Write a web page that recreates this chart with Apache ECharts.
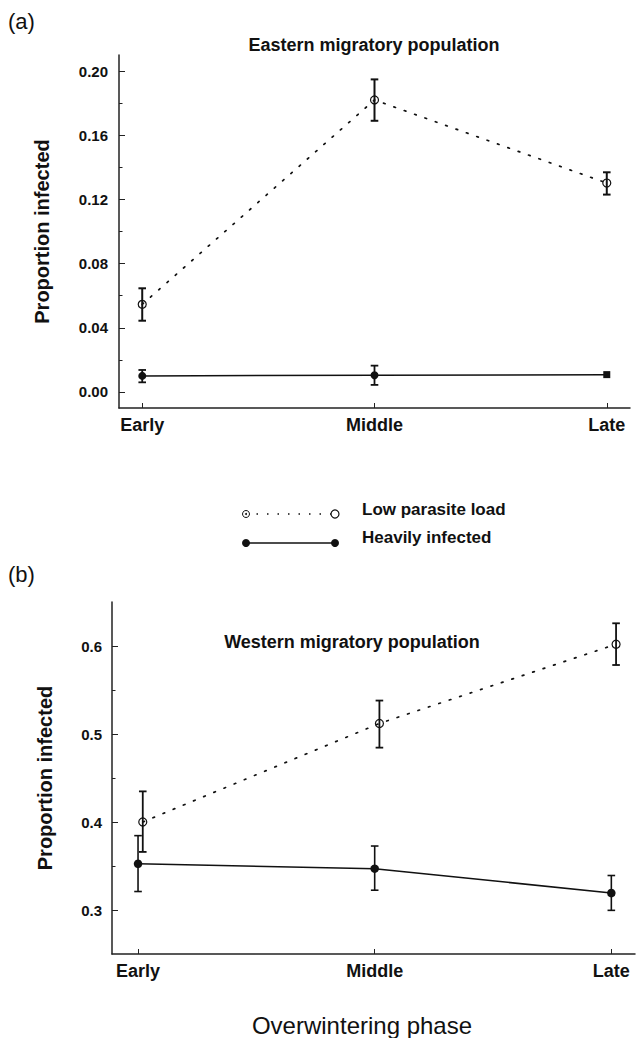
<!DOCTYPE html>
<html>
<head>
<meta charset="utf-8">
<script src="https://cdn.jsdelivr.net/npm/echarts@6/dist/echarts.min.js"></script>
<style>
  html, body { margin: 0; padding: 0; background: #fff; }
  #chart { width: 639px; height: 1038px; }
</style>
</head>
<body>
<div id="chart"></div>
<script>
// ---- data ----
const categories = ['Early', 'Middle', 'Late'];

// (a) Eastern migratory population
const eastLowMean   = [0.0546, 0.1820, 0.1302];
const eastLowLo     = [0.0444, 0.1690, 0.1230];
const eastLowHi     = [0.0646, 0.1948, 0.1369];
const eastHeavyMean = [0.0100, 0.0104, 0.0108];
const eastHeavyLo   = [0.0060, 0.0044, null];
const eastHeavyHi   = [0.0137, 0.0164, null];
const eastTicks      = [0.00, 0.04, 0.08, 0.12, 0.16, 0.20];
const eastMinorTicks = [0.02, 0.06, 0.10, 0.14, 0.18];

// (b) Western migratory population
const westLowMean   = [0.400, 0.512, 0.602];
const westLowLo     = [0.366, 0.4845, 0.5784];
const westLowHi     = [0.4348, 0.538, 0.6258];
const westHeavyMean = [0.3525, 0.3470, 0.3193];
const westHeavyLo   = [0.3210, 0.3225, 0.2996];
const westHeavyHi   = [0.3845, 0.3727, 0.3392];
const westTicks      = [0.3, 0.4, 0.5, 0.6];
const westMinorTicks = [0.35, 0.45, 0.55];

// ---- styling helpers ----
const INK = '#111';
const FONT = '"Liberation Sans", Arial, Helvetica, sans-serif';
const westLowDodge = 0.02;

function pts(means, dx) { return means.map((v, i) => [i + dx, v]); }
function bars(lo, hi, dx) {
  const out = [];
  lo.forEach((l, i) => { if (l != null && hi[i] != null) out.push([i + dx, l, hi[i]]); });
  return out;
}
function errRender(width) {
  return function (params, api) {
    const x = api.value(0);
    const a = api.coord([x, api.value(1)]);
    const b = api.coord([x, api.value(2)]);
    const cw = 3.8;
    const st = { stroke: INK, lineWidth: width };
    return {
      type: 'group',
      children: [
        { type: 'line', shape: { x1: a[0], y1: a[1], x2: b[0], y2: b[1] }, style: st },
        { type: 'line', shape: { x1: a[0] - cw, y1: a[1], x2: a[0] + cw, y2: a[1] }, style: st },
        { type: 'line', shape: { x1: b[0] - cw, y1: b[1], x2: b[0] + cw, y2: b[1] }, style: st }
      ]
    };
  };
}
function xAxisCfg(gridIndex, min, max) {
  return {
    type: 'value', gridIndex, min, max, position: 'bottom',
    axisLine: { show: true, onZero: false, lineStyle: { color: '#222', width: 1.5 } },
    axisTick: { show: true, inside: true, length: 5, customValues: [0, 1, 2], lineStyle: { color: '#222', width: 1 } },
    axisLabel: {
      show: true, customValues: [0, 1, 2], margin: 8,
      formatter: v => categories[Math.round(v)],
      color: INK, fontSize: 18, fontWeight: 'bold', fontFamily: FONT
    },
    splitLine: { show: false }
  };
}
function yAxisCfg(gridIndex, min, max, ticks, digits, margin, nameGap) {
  return {
    type: 'value', gridIndex, min, max, position: 'left',
    name: 'Proportion infected', nameLocation: 'middle', nameRotate: 90, nameGap,
    nameTextStyle: { color: INK, fontSize: 20, fontWeight: 'bold', fontFamily: FONT },
    axisLine: { show: true, onZero: false, lineStyle: { color: '#222', width: 1.5 } },
    axisTick: { show: true, inside: true, length: 6, customValues: ticks, lineStyle: { color: '#222', width: 1 } },
    axisLabel: {
      show: true, customValues: ticks, margin,
      formatter: v => v.toFixed(digits),
      color: INK, fontSize: 15, fontWeight: 'bold', fontFamily: FONT
    },
    splitLine: { show: false }
  };
}
function yMinorCfg(gridIndex, min, max, ticks) {
  return {
    type: 'value', gridIndex, min, max, position: 'left', offset: 0,
    axisLine: { show: false, onZero: false },
    axisTick: { show: true, inside: true, length: 3.5, customValues: ticks, lineStyle: { color: '#222', width: 1 } },
    axisLabel: { show: false },
    splitLine: { show: false }
  };
}
const openCircle = { color: 'transparent', borderColor: INK, borderWidth: 1.2 };
const dotted = { color: INK, width: 1.7, type: [1.7, 9.3], cap: 'round' };
const solid = { color: INK, width: 1.5 };

const option = {
  animation: false,
  backgroundColor: '#fff',
  grid: [
    { left: 119, top: 55, width: 511, height: 353 },
    { left: 112, top: 602, width: 523, height: 352 }
  ],
  xAxis: [xAxisCfg(0, -0.1, 2.1), xAxisCfg(1, -0.11, 2.1)],
  yAxis: [
    yAxisCfg(0, -0.01, 0.21, eastTicks, 2, 11, 67),
    yMinorCfg(0, -0.01, 0.21, eastMinorTicks),
    yAxisCfg(1, 0.25, 0.65, westTicks, 1, 10, 57),
    yMinorCfg(1, 0.25, 0.65, westMinorTicks)
  ],
  series: [
    { type: 'custom', xAxisIndex: 0, yAxisIndex: 0, renderItem: errRender(2), data: bars(eastLowLo, eastLowHi, 0), encode: { x: 0, y: [1, 2] }, z: 1 },
    { type: 'custom', xAxisIndex: 0, yAxisIndex: 0, renderItem: errRender(1.8), data: bars(eastHeavyLo, eastHeavyHi, 0), encode: { x: 0, y: [1, 2] }, z: 1 },
    { type: 'line', name: 'Low parasite load', xAxisIndex: 0, yAxisIndex: 0, data: pts(eastLowMean, 0),
      symbol: 'circle', symbolSize: 8, itemStyle: openCircle, lineStyle: dotted, z: 3 },
    { type: 'line', name: 'Heavily infected', xAxisIndex: 0, yAxisIndex: 0,
      data: pts(eastHeavyMean, 0).map((p, i) => i === 2 ? { value: p, symbol: 'rect', symbolSize: 7 } : p),
      symbol: 'circle', symbolSize: 8, itemStyle: { color: INK }, lineStyle: solid, z: 3 },

    { type: 'custom', xAxisIndex: 1, yAxisIndex: 2, renderItem: errRender(1.8), data: bars(westLowLo, westLowHi, westLowDodge), encode: { x: 0, y: [1, 2] }, z: 1 },
    { type: 'custom', xAxisIndex: 1, yAxisIndex: 2, renderItem: errRender(1.6), data: bars(westHeavyLo, westHeavyHi, 0), encode: { x: 0, y: [1, 2] }, z: 1 },
    { type: 'line', name: 'Low parasite load', xAxisIndex: 1, yAxisIndex: 2, data: pts(westLowMean, westLowDodge),
      symbol: 'circle', symbolSize: 8, itemStyle: openCircle, lineStyle: dotted, z: 3 },
    { type: 'line', name: 'Heavily infected', xAxisIndex: 1, yAxisIndex: 2, data: pts(westHeavyMean, 0),
      symbol: 'circle', symbolSize: 8.5, itemStyle: { color: INK }, lineStyle: solid, z: 3 }
  ],
  graphic: [
    { type: 'text', x: 8, y: 21, style: { text: '(a)', fill: INK, font: '22px ' + FONT, textVerticalAlign: 'middle', verticalAlign: 'middle' } },
    { type: 'text', x: 8, y: 574, style: { text: '(b)', fill: INK, font: '22px ' + FONT, textVerticalAlign: 'middle', verticalAlign: 'middle' } },
    { type: 'text', x: 374, y: 45, style: { text: 'Eastern migratory population', fill: INK, font: 'bold 18px ' + FONT, textAlign: 'center', align: 'center', textVerticalAlign: 'middle', verticalAlign: 'middle' } },
    { type: 'text', x: 352, y: 642, style: { text: 'Western migratory population', fill: INK, font: 'bold 18px ' + FONT, textAlign: 'center', align: 'center', textVerticalAlign: 'middle', verticalAlign: 'middle' } },
    { type: 'text', x: 362, y: 1025, style: { text: 'Overwintering phase', fill: INK, font: '24px ' + FONT, textAlign: 'center', align: 'center', textVerticalAlign: 'middle', verticalAlign: 'middle' } },
    // legend
    { type: 'line', shape: { x1: 246, y1: 514, x2: 335, y2: 514 }, style: { stroke: INK, lineWidth: 1.5, lineDash: [1.5, 9] } },
    { type: 'circle', shape: { cx: 246, cy: 514, r: 3.5 }, style: { fill: '#fff', stroke: INK, lineWidth: 1 } },
    { type: 'circle', shape: { cx: 246, cy: 514, r: 1 }, style: { fill: INK } },
    { type: 'circle', shape: { cx: 335, cy: 514, r: 4 }, style: { fill: '#fff', stroke: INK, lineWidth: 1.2 } },
    { type: 'line', shape: { x1: 246, y1: 543, x2: 335, y2: 543 }, style: { stroke: INK, lineWidth: 1.5 } },
    { type: 'circle', shape: { cx: 246, cy: 543, r: 4 }, style: { fill: INK } },
    { type: 'circle', shape: { cx: 335, cy: 543, r: 4 }, style: { fill: INK } },
    { type: 'text', x: 362, y: 509, style: { text: 'Low parasite load', fill: INK, font: 'bold 17px ' + FONT, textVerticalAlign: 'middle', verticalAlign: 'middle' } },
    { type: 'text', x: 362, y: 537, style: { text: 'Heavily infected', fill: INK, font: 'bold 17px ' + FONT, textVerticalAlign: 'middle', verticalAlign: 'middle' } }
  ]
};

const chart = echarts.init(document.getElementById('chart'), null, { renderer: 'svg' });
chart.setOption(option);
</script>
</body>
</html>
